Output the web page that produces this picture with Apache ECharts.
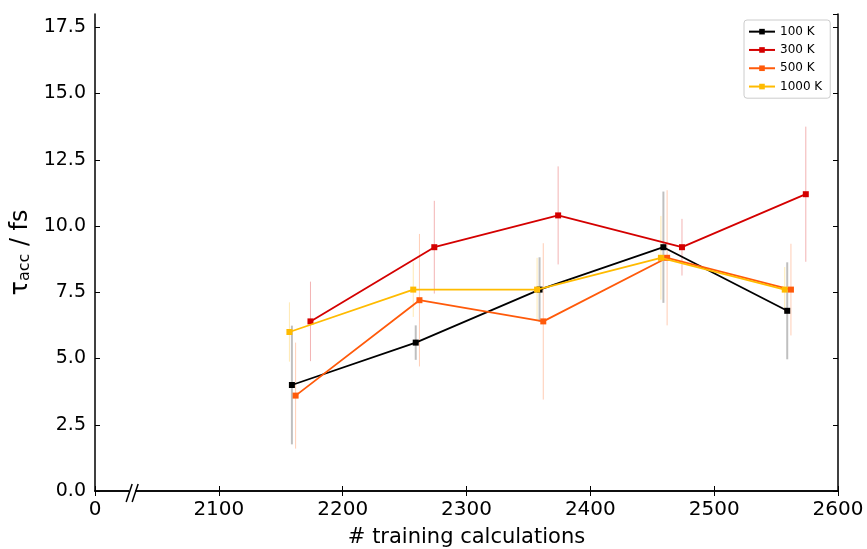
<!DOCTYPE html>
<html>
<head>
<meta charset="utf-8">
<script src="https://cdn.jsdelivr.net/npm/echarts@6/dist/echarts.min.js"></script>
<style>html,body{margin:0;padding:0;background:#fff;}#c{width:867px;height:549px;}</style>
</head>
<body>
<div id="c"></div>
<script>
const seriesNames = ['100 K', '300 K', '500 K', '1000 K'];
const colors = ['#000000', '#d40000', '#ff5a0a', '#ffbb00'];
const barColors = ['rgba(0,0,0,0.25)', 'rgba(212,0,0,0.3)', 'rgba(255,90,10,0.3)', 'rgba(255,187,0,0.3)'];
const barWidths = [2, 1, 1, 1];

const x100 = [2159, 2259, 2359, 2459, 2559];
const y100 = [4.0, 5.6, 7.6, 9.2, 6.8];
const e100 = [2.24, 0.65, 1.22, 2.1, 1.83];

const x300 = [2174, 2274, 2374, 2474, 2574];
const y300 = [6.4, 9.2, 10.4, 9.2, 11.2];
const e300 = [1.5, 1.75, 1.85, 1.07, 2.55];

const x500 = [2162, 2262, 2362, 2462, 2562];
const y500 = [3.6, 7.2, 6.4, 8.8, 7.6];
const e500 = [2.0, 2.5, 2.95, 2.55, 1.73];

const x1000 = [2157, 2257, 2357, 2457, 2557];
const y1000 = [6.0, 7.6, 7.6, 8.8, 7.6];
const e1000 = [1.12, 1.03, 1.2, 1.58, 0.85];

const xTickValues = [2000, 2100, 2200, 2300, 2400, 2500, 2600];
const xTickLabels = ['0', '2100', '2200', '2300', '2400', '2500', '2600'];

const allX = [x100, x300, x500, x1000];
const allY = [y100, y300, y500, y1000];
const allE = [e100, e300, e500, e1000];

const chart = echarts.init(document.getElementById('c'), null, {renderer: 'canvas'});
const font = 'DejaVu Sans';

const series = [];
seriesNames.forEach((n, i) => {
  series.push({
    type: 'custom',
    name: n + ' err',
    xAxisIndex: 0, yAxisIndex: 0,
    z: 1,
    silent: true,
    data: allX[i].map((x, k) => [x, allY[i][k] - allE[i][k], allY[i][k] + allE[i][k]]),
    encode: {x: 0, y: [1, 2]},
    renderItem: function (params, api) {
      const p1 = api.coord([api.value(0), api.value(1)]);
      const p2 = api.coord([api.value(0), api.value(2)]);
      return {
        type: 'line',
        shape: {x1: p1[0], y1: p1[1], x2: p2[0], y2: p2[1]},
        style: {stroke: barColors[i], lineWidth: barWidths[i]}
      };
    }
  });
});
seriesNames.forEach((n, i) => {
  series.push({
    type: 'line',
    name: n,
    xAxisIndex: 0, yAxisIndex: 0,
    z: 3 + i,
    data: allX[i].map((x, k) => [x, allY[i][k]]),
    symbol: 'rect',
    symbolSize: 6,
    showAllSymbol: true,
    lineStyle: {color: colors[i], width: 1.8},
    itemStyle: {color: colors[i]},
    animation: false
  });
});

const xLabelFmt = v => {
  const idx = xTickValues.indexOf(v);
  return idx >= 0 ? xTickLabels[idx] : '';
};

const common = {
  axisLine: {show: true, lineStyle: {color: '#000', width: 1.5}},
  axisTick: {show: true, inside: true, length: 5, lineStyle: {color: '#000', width: 1}},
  splitLine: {show: false}
};

const option = {
  animation: false,
  backgroundColor: '#fff',
  grid: {left: 95, right: 29, top: 14, bottom: 58, containLabel: false, outerBoundsMode: 'none'},
  legend: {
    data: seriesNames,
    orient: 'vertical',
    left: 744, top: 20,
    padding: [5, 8, 5, 4],
    itemWidth: 26, itemHeight: 7, itemGap: 5,
    backgroundColor: '#fff',
    borderColor: '#cccccc', borderWidth: 1, borderRadius: 3,
    textStyle: {fontFamily: font, fontSize: 12, color: '#000', lineHeight: 13.3}
  },
  xAxis: [
    Object.assign({}, common, {
      type: 'value', position: 'bottom', min: 2000, max: 2600, interval: 100,
      axisLabel: {formatter: xLabelFmt, fontFamily: font, fontSize: 20, color: '#000', margin: 9},
      name: '# training calculations', nameLocation: 'middle', nameGap: 36,
      nameTextStyle: {fontFamily: font, fontSize: 21, color: '#000'}
    }),
    Object.assign({}, common, {
      type: 'value', position: 'top', min: 2000, max: 2600, interval: 100,
      axisLabel: {show: false}
    })
  ],
  yAxis: [
    Object.assign({}, common, {
      type: 'value', position: 'left', min: 0, max: 18, interval: 2.5,
      axisLabel: {formatter: v => v.toFixed(1), showMaxLabel: false, fontFamily: font, fontSize: 19, color: '#000', margin: 9},
      name: '{t|τ}{s|acc}{t| / fs}', nameLocation: 'middle', nameGap: 60,
      nameTextStyle: {
        fontFamily: font, color: '#000',
        rich: {
          t: {fontFamily: font, fontSize: 24, color: '#000', verticalAlign: 'bottom', lineHeight: 28},
          s: {fontFamily: font, fontSize: 16, color: '#000', verticalAlign: 'bottom', lineHeight: 22}
        }
      }
    }),
    Object.assign({}, common, {
      type: 'value', position: 'right', min: 0, max: 18, interval: 2.5,
      axisLabel: {show: false}
    })
  ],
  series: series
};
chart.setOption(option);

const base = chart.convertToPixel({xAxisIndex: 0, yAxisIndex: 0}, [2030, 0]);
chart.setOption({
  graphic: [
    {type: 'rect', shape: {x: base[0] - 3, y: base[1] - 2, width: 6, height: 4}, style: {fill: '#fff'}, z: 100},
    {type: 'line', shape: {x1: base[0] - 6, y1: base[1] + 11, x2: base[0], y2: base[1] - 7}, style: {stroke: '#000', lineWidth: 1.5}, z: 101},
    {type: 'line', shape: {x1: base[0], y1: base[1] + 11, x2: base[0] + 6, y2: base[1] - 7}, style: {stroke: '#000', lineWidth: 1.5}, z: 101}
  ]
});
</script>
</body>
</html>
